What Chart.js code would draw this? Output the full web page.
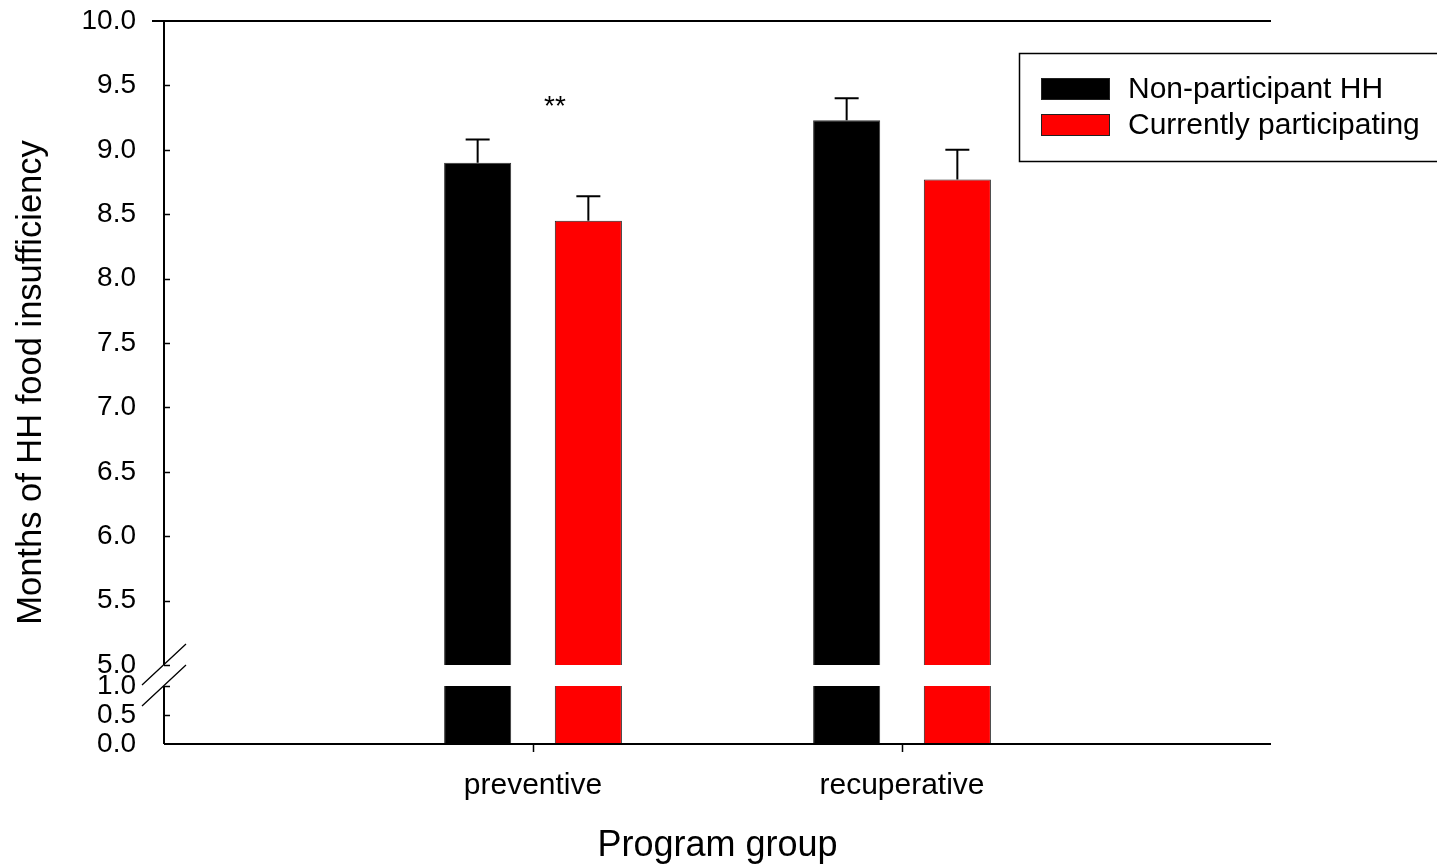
<!DOCTYPE html>
<html>
<head>
<meta charset="utf-8">
<script src="https://cdn.jsdelivr.net/npm/chart.js@4.4.0/dist/chart.umd.min.js"></script>
<style>
  html, body { margin: 0; padding: 0; background: #fff; }
  #wrap { width: 1437px; height: 864px; }
</style>
</head>
<body>
<div id="wrap"><canvas id="chart" width="1437" height="864"></canvas></div>
<script>
// data
const categories = ["preventive", "recuperative"];
const nonParticipant = [8.90, 9.23];
const nonParticipantErr = [0.18, 0.17];
const participating = [8.45, 8.77];
const participatingErr = [0.19, 0.23];
const sigMarks = ["**", ""];
const yTicks = [0, 0.5, 1.0, 5.0, 5.5, 6.0, 6.5, 7.0, 7.5, 8.0, 8.5, 9.0, 9.5, 10.0];

// axis break: 0..1 on the bottom, 5..10 above it
const brk = { low: 1, high: 5, lowShare: 58 / 723, gapShare: 21 / 723 };
const FONT = "'Liberation Sans', Arial, sans-serif";

function toDecimal(v) {
    if (v <= brk.low) return (v / brk.low) * brk.lowShare;
    if (v < brk.high) return brk.lowShare + (v - brk.low) / (brk.high - brk.low) * brk.gapShare;
    return brk.lowShare + brk.gapShare + (v - brk.high) / (10 - brk.high) * (1 - brk.lowShare - brk.gapShare);
}
function fromDecimal(d) {
    if (d <= brk.lowShare) return d / brk.lowShare * brk.low;
    if (d < brk.lowShare + brk.gapShare) return brk.low + (d - brk.lowShare) / brk.gapShare * (brk.high - brk.low);
    return brk.high + (d - brk.lowShare - brk.gapShare) / (1 - brk.lowShare - brk.gapShare) * (10 - brk.high);
}

class BrokenScale extends Chart.LinearScale {
    static id = "broken";
    static defaults = Chart.LinearScale.defaults;
    buildTicks() {
        return yTicks.map(v => ({ value: v }));
    }
    getPixelForValue(value) {
        if (value === null || value === undefined) return NaN;
        return this.getPixelForDecimal(toDecimal(value));
    }
    getValueForPixel(pixel) {
        return fromDecimal(this.getDecimalForPixel(pixel));
    }
}
Chart.register(BrokenScale);

const pad = arr => [null, ...arr, null];

const decorPlugin = {
    id: "decor",
    afterDatasetsDraw(chart) {
        const ctx = chart.ctx;
        const area = chart.chartArea;
        const x = chart.scales.x;
        const y = chart.scales.y;
        const yHi = y.getPixelForValue(brk.high);
        const yLo = y.getPixelForValue(brk.low);
        ctx.save();

        // white band through the bars at the break
        ctx.fillStyle = "#fff";
        ctx.fillRect(area.left + 1, yHi, area.right - area.left, yLo - yHi);

        // error bars (upper only)
        const errs = [nonParticipantErr, participatingErr];
        const vals = [nonParticipant, participating];
        ctx.strokeStyle = "#000";
        ctx.lineWidth = 2;
        const groupCap = categories.map(() => Infinity);
        chart.data.datasets.forEach((ds, di) => {
            const meta = chart.getDatasetMeta(di);
            categories.forEach((c, i) => {
                const bar = meta.data[i + 1];
                const v = vals[di][i];
                const yTop = y.getPixelForValue(v + errs[di][i]);
                groupCap[i] = Math.min(groupCap[i], yTop);
                ctx.beginPath();
                ctx.moveTo(bar.x, y.getPixelForValue(v));
                ctx.lineTo(bar.x, yTop);
                ctx.moveTo(bar.x - 12, yTop);
                ctx.lineTo(bar.x + 12, yTop);
                ctx.stroke();
            });
        });

        // axes
        ctx.lineWidth = 2;
        ctx.beginPath();
        ctx.moveTo(area.left - 12, area.top);
        ctx.lineTo(area.right, area.top);
        ctx.moveTo(area.left, area.bottom);
        ctx.lineTo(area.right, area.bottom);
        ctx.moveTo(area.left, area.top);
        ctx.lineTo(area.left, yHi);
        ctx.moveTo(area.left, yLo);
        ctx.lineTo(area.left, area.bottom);
        ctx.stroke();

        // tick marks
        ctx.lineWidth = 1.5;
        ctx.beginPath();
        yTicks.forEach(v => {
            if (v === 0 || v === 10) return;
            const py = Math.round(y.getPixelForValue(v)) + 0.5;
            ctx.moveTo(area.left, py);
            ctx.lineTo(area.left + 6, py);
        });
        categories.forEach((c, i) => {
            const px = Math.round(x.getPixelForValue(i + 1)) + 0.5;
            ctx.moveTo(px, area.bottom);
            ctx.lineTo(px, area.bottom + 8);
        });
        ctx.stroke();

        // break marks
        ctx.lineWidth = 1.3;
        ctx.beginPath();
        [yHi, yLo].forEach(py => {
            ctx.moveTo(area.left - 22, py + 20);
            ctx.lineTo(area.left + 22, py - 21);
        });
        ctx.stroke();

        // significance marks
        ctx.fillStyle = "#000";
        ctx.font = "28px " + FONT;
        ctx.textAlign = "center";
        ctx.textBaseline = "middle";
        sigMarks.forEach((m, i) => {
            if (!m) return;
            ctx.fillText(m, x.getPixelForValue(i + 1) + 22, groupCap[i] - 32);
        });

        // legend
        const lx = 1019, ly = 53;
        ctx.lineWidth = 1.5;
        ctx.strokeRect(lx + 0.5, ly + 0.5, chart.width, 108);
        ctx.font = "30px " + FONT;
        ctx.textAlign = "left";
        chart.data.datasets.forEach((ds, di) => {
            const ry = 78 + di * 36;
            ctx.fillStyle = ds.backgroundColor;
            ctx.fillRect(1041, ry, 69, 22);
            ctx.lineWidth = 1;
            ctx.strokeStyle = "#222";
            ctx.strokeRect(1041.5, ry + 0.5, 68, 21);
            ctx.fillStyle = "#000";
            ctx.fillText(ds.label, 1128, ry + 12);
        });
        ctx.restore();
    }
};

new Chart(document.getElementById("chart"), {
    type: "bar",
    data: {
        labels: pad(categories).map(c => c || ""),
        datasets: [
            { label: "Non-participant HH", data: pad(nonParticipant), backgroundColor: "#000000", borderColor: "#333", borderWidth: 1 },
            { label: "Currently participating", data: pad(participating), backgroundColor: "#ff0000", borderColor: "#222", borderWidth: 1 }
        ]
    },
    options: {
        responsive: false,
        animation: false,
        categoryPercentage: 0.6,
        barPercentage: 0.606,
        layout: { padding: { top: 21, right: 166, left: 0, bottom: 0 } },
        plugins: { legend: { display: false }, tooltip: { enabled: false } },
        scales: {
            x: {
                type: "category",
                offset: false,
                grid: { display: false, drawTicks: false },
                border: { display: false },
                ticks: { color: "#000", font: { family: FONT, size: 30 }, padding: 24, autoSkip: false, maxRotation: 0 },
                title: { display: true, text: "Program group", color: "#000", font: { family: FONT, size: 36, lineHeight: 1 }, padding: { top: 0, bottom: 0 } },
                afterFit: s => { s.height = 120; s.paddingLeft = 0; s.paddingRight = 0; }
            },
            y: {
                type: "broken",
                min: 0,
                max: 10,
                grid: { display: false, drawTicks: false },
                border: { display: false },
                ticks: { color: "#000", font: { family: FONT, size: 28 }, padding: 28, autoSkip: false, callback: v => v.toFixed(1) },
                title: { display: true, text: "Months of HH food insufficiency", color: "#000", font: { family: FONT, size: 34.5, lineHeight: 1 }, padding: { top: 14, bottom: 0 } },
                afterFit: s => { s.width = 164; s.paddingTop = 0; s.paddingBottom = 0; }
            }
        }
    },
    plugins: [decorPlugin]
});
</script>
</body>
</html>
